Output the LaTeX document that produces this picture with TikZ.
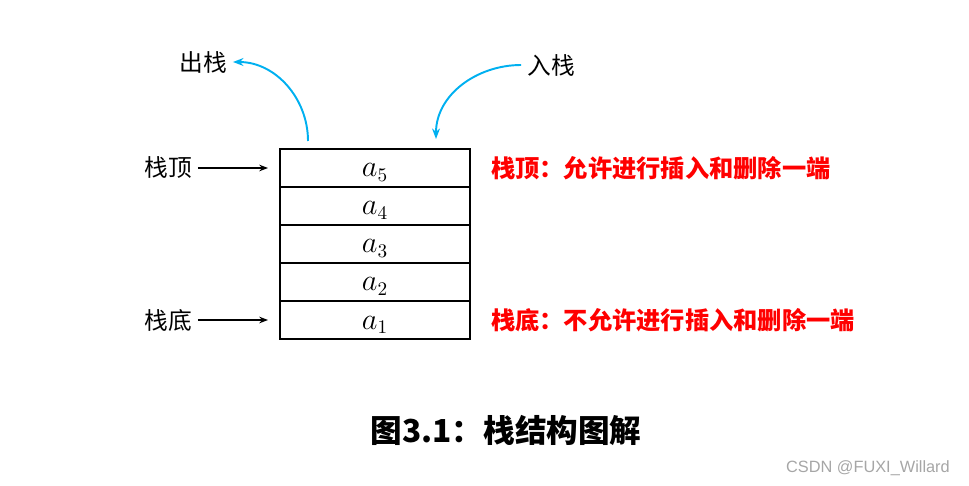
\documentclass[tikz,border=0pt]{standalone}
\usepackage{fontspec}
\setmainfont{Noto Sans CJK SC}
\newfontfamily\wmfont{Liberation Sans}
\usetikzlibrary{arrows.meta,positioning}
\definecolor{StackBlue}{HTML}{00B0F0}
\definecolor{NoteRed}{HTML}{FF0000}
\definecolor{MarkGray}{HTML}{A6A6A6}
\tikzset{
  cellB/.style={rectangle,draw,line width=1.2pt,
             minimum width=3.8cm,minimum height=0.76cm,
             inner sep=0pt,outer sep=0pt,
             text height=0.36cm,text depth=0pt,
             font=\fontsize{16}{19}\selectfont},
  lbl/.style={font=\fontsize{13.5}{16}\selectfont},
  note/.style={anchor=west,text=NoteRed,font=\fontsize{13.8}{16}\selectfont\bfseries},
  arr/.style={-{Stealth[length=5pt]},line width=0.9pt},
  bArr/.style={-{Stealth[length=6pt]},line width=1.1pt,StackBlue}
}
\begin{document}
\begin{tikzpicture}[x=0.02cm,y=-0.02cm]
  \useasboundingbox (0,0) rectangle (969,486);
  % stack cells
  \foreach \i/\y in {5/168,4/206,3/244,2/282,1/320}
    \node[cellB] (c\i) at (375,\y) {$a_{\i}$};

  \node[lbl] (top) at (168,168) {栈顶};
  \node[lbl] (bot) at (168,320) {栈底};
  \node[lbl] (pop) at (203,62) {出栈};
  \node[lbl] (push) at (551,65) {入栈};
  \coordinate (popS) at (308,141);
  \coordinate (pushE) at (436,139);

  \draw[arr,shorten >=0.24cm](top)--(c5.west);
  \draw[arr,shorten >=0.24cm](bot)--(c1.west);
  \draw[bArr](popS) to[out=90,in=0] (pop.east);
  \draw[bArr](push.west) to[out=180,in=90] (pushE);

  \node[note] (topN) at (485,168) {栈顶：允许进行插入和删除一端};
  \node[note] (botN) at (485,320) {栈底：不允许进行插入和删除一端};

  \node[font=\fontsize{18}{22}\selectfont\bfseries] (cap) at (506,430) {图3.1：栈结构图解};
  \node[anchor=east,text=MarkGray,font=\wmfont\fontsize{9.3}{11}\selectfont] (mark) at (956,468) {CSDN @FUXI\_Willard};
\end{tikzpicture}
\end{document}
